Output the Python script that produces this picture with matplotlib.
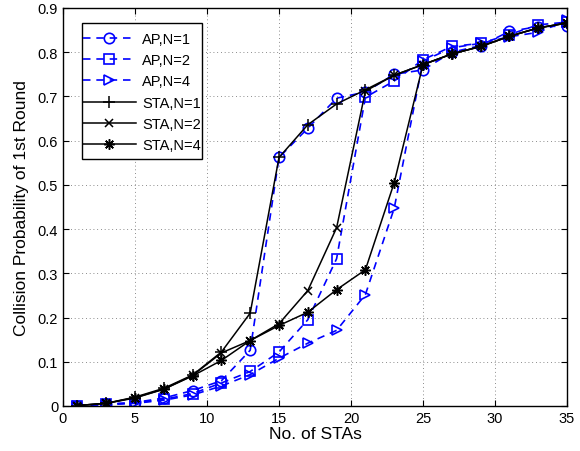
import numpy as np
import matplotlib
matplotlib.use("Agg")
import matplotlib.pyplot as plt
from matplotlib.patches import Rectangle

plt.rcParams['font.family'] = ['Liberation Sans', 'DejaVu Sans']

# number of STAs
n_sta = [1, 3, 5, 7, 9, 11, 13, 15, 17, 19, 21, 23, 25, 27, 29, 31, 33, 35]

# collision probability of 1st round
ap_n1 = [0.001, 0.004, 0.008, 0.018, 0.035, 0.057, 0.126, 0.562, 0.628, 0.696,
         0.710, 0.750, 0.760, 0.800, 0.815, 0.847, 0.858, 0.859]
ap_n2 = [0.001, 0.004, 0.007, 0.015, 0.028, 0.052, 0.078, 0.122, 0.195, 0.333,
         0.698, 0.735, 0.783, 0.813, 0.820, 0.840, 0.862, 0.868]
ap_n4 = [0.001, 0.003, 0.006, 0.013, 0.025, 0.045, 0.071, 0.108, 0.142, 0.171,
         0.252, 0.447, 0.780, 0.810, 0.820, 0.835, 0.845, 0.872]
sta_n1 = [0.001, 0.006, 0.020, 0.040, 0.070, 0.122, 0.210, 0.562, 0.636, 0.683,
          0.715, 0.748, 0.772, 0.796, 0.813, 0.836, 0.855, 0.866]
sta_n2 = [0.001, 0.006, 0.019, 0.038, 0.069, 0.120, 0.148, 0.186, 0.261, 0.403,
          0.712, 0.748, 0.772, 0.796, 0.813, 0.836, 0.855, 0.866]
sta_n4 = [0.001, 0.006, 0.018, 0.038, 0.068, 0.103, 0.148, 0.182, 0.212, 0.263,
          0.308, 0.505, 0.772, 0.796, 0.813, 0.836, 0.855, 0.866]

fig = plt.figure(figsize=(5.8, 4.52), dpi=100)
ax = fig.add_axes([0.1086, 0.0996, 0.869, 0.8805])

blue = '#0000ff'
dash = (0, (4.5, 3.5))
ms = 7.5

ax.plot(n_sta, ap_n1, color=blue, ls=dash, lw=1.2, marker='o', mfc='none',
        mec=blue, mew=1.2, ms=ms, label='AP,N=1')
ax.plot(n_sta, ap_n2, color=blue, ls=dash, lw=1.2, marker='s', mfc='none',
        mec=blue, mew=1.2, ms=ms, label='AP,N=2')
ax.plot(n_sta, ap_n4, color=blue, ls=dash, lw=1.2, marker='>', mfc='none',
        mec=blue, mew=1.2, ms=ms, label='AP,N=4')
ax.plot(n_sta, sta_n1, color='k', lw=1.1, marker='+', ms=ms + 1, mew=1.1,
        label='STA,N=1')
ax.plot(n_sta, sta_n2, color='k', lw=1.1, marker='x', ms=ms - 1.5, mew=1.1,
        label='STA,N=2')
ax.plot(n_sta, sta_n4, color='k', lw=1.1, marker=(8, 2, 0), ms=ms, mew=1.1,
        label='STA,N=4')

ax.set_xlim(0, 35)
ax.set_ylim(0, 0.9)
ax.set_xticks(np.arange(0, 36, 5))
ax.set_yticks(np.arange(0, 0.91, 0.1))
ax.set_yticklabels(['0', '0.1', '0.2', '0.3', '0.4', '0.5', '0.6', '0.7', '0.8', '0.9'])

ax.grid(True, color='0.4', ls=(0, (1, 3.5)), lw=0.6)
ax.tick_params(direction='in', top=True, right=True, length=4.5, labelsize=10.5)
for s in ax.spines.values():
    s.set_linewidth(1.0)

ax.set_xlabel('No. of STAs', fontsize=12.5, labelpad=1)
ax.set_ylabel('Collision Probability of 1st Round', fontsize=12.5, labelpad=6)

# legend box drawn by hand so the text can touch its right edge
ax.add_patch(Rectangle((0.037, 0.6206), 0.238, 0.341, transform=ax.transAxes,
                       facecolor='white', edgecolor='k', lw=1.0, zorder=4))
leg = ax.legend(loc='upper left', bbox_to_anchor=(0.04, 0.94), fontsize=10.5,
                handlelength=3.6, handletextpad=0.45, labelspacing=0.5,
                borderpad=0.0, frameon=False, borderaxespad=0)
leg.set_zorder(5)

fig.savefig('out.png', dpi=100)
